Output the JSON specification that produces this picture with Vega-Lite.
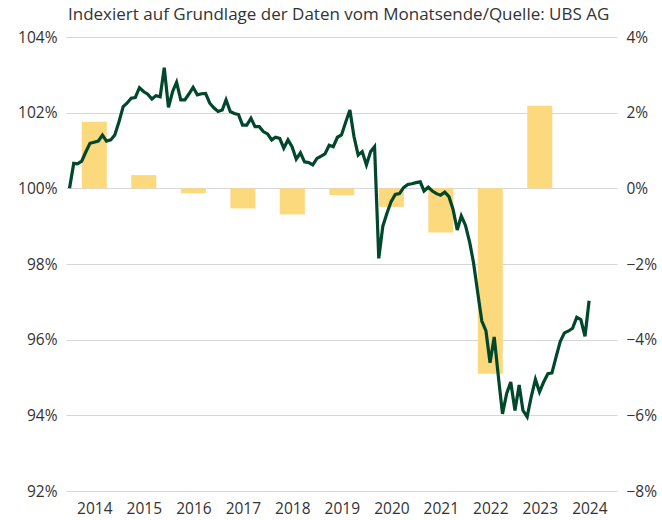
{
  "$schema": "https://vega.github.io/schema/vega-lite/v6.json",
  "width": 551,
  "height": 454,
  "autosize": {"type": "none"},
  "padding": {"left": 66, "top": 37, "right": 45, "bottom": 29},
  "background": "white",
  "config": {
    "view": {"stroke": null},
    "font": "Open Sans",
    "axis": {
      "labelFont": "Open Sans",
      "labelFontSize": 15.5,
      "labelColor": "#333333",
      "domain": false,
      "ticks": false,
      "title": null
    }
  },
  "title": {
    "text": "Indexiert auf Grundlage der Daten vom Monatsende/Quelle: UBS AG",
    "anchor": "start",
    "frame": "group",
    "offset": 6,
    "dx": 2,
    "fontSize": 17,
    "fontWeight": "normal",
    "font": "Open Sans",
    "color": "#333333"
  },
  "datasets": {
    "returns": [
      {"date": "2014-07-02", "ret": 1.76},
      {"date": "2015-07-02", "ret": 0.35},
      {"date": "2016-07-02", "ret": -0.13},
      {"date": "2017-07-02", "ret": -0.53},
      {"date": "2018-07-02", "ret": -0.69},
      {"date": "2019-07-02", "ret": -0.18},
      {"date": "2020-07-02", "ret": -0.49},
      {"date": "2021-07-02", "ret": -1.17},
      {"date": "2022-07-02", "ret": -4.9},
      {"date": "2023-07-02", "ret": 2.18}
    ],
    "index": [
      {"date": "2013-12-31", "value": 100.0},
      {"date": "2014-01-31", "value": 100.66},
      {"date": "2014-02-28", "value": 100.65},
      {"date": "2014-03-31", "value": 100.72},
      {"date": "2014-04-30", "value": 100.96},
      {"date": "2014-05-31", "value": 101.19},
      {"date": "2014-06-30", "value": 101.22},
      {"date": "2014-07-31", "value": 101.25},
      {"date": "2014-08-31", "value": 101.41},
      {"date": "2014-09-30", "value": 101.25},
      {"date": "2014-10-31", "value": 101.28},
      {"date": "2014-11-30", "value": 101.41},
      {"date": "2014-12-31", "value": 101.76},
      {"date": "2015-01-31", "value": 102.16},
      {"date": "2015-02-28", "value": 102.25},
      {"date": "2015-03-31", "value": 102.38},
      {"date": "2015-04-30", "value": 102.40},
      {"date": "2015-05-31", "value": 102.66},
      {"date": "2015-06-30", "value": 102.56},
      {"date": "2015-07-31", "value": 102.49},
      {"date": "2015-08-31", "value": 102.36},
      {"date": "2015-09-30", "value": 102.45},
      {"date": "2015-10-31", "value": 102.42},
      {"date": "2015-11-30", "value": 103.19},
      {"date": "2015-12-31", "value": 102.14},
      {"date": "2016-01-31", "value": 102.56},
      {"date": "2016-02-29", "value": 102.80},
      {"date": "2016-03-31", "value": 102.34},
      {"date": "2016-04-30", "value": 102.34},
      {"date": "2016-05-31", "value": 102.50},
      {"date": "2016-06-30", "value": 102.67},
      {"date": "2016-07-31", "value": 102.47},
      {"date": "2016-08-31", "value": 102.50},
      {"date": "2016-09-30", "value": 102.51},
      {"date": "2016-10-31", "value": 102.25},
      {"date": "2016-11-30", "value": 102.13},
      {"date": "2016-12-31", "value": 102.03},
      {"date": "2017-01-31", "value": 102.07},
      {"date": "2017-02-28", "value": 102.34},
      {"date": "2017-03-31", "value": 102.03},
      {"date": "2017-04-30", "value": 101.98},
      {"date": "2017-05-31", "value": 101.95},
      {"date": "2017-06-30", "value": 101.67},
      {"date": "2017-07-31", "value": 101.67},
      {"date": "2017-08-31", "value": 101.85},
      {"date": "2017-09-30", "value": 101.63},
      {"date": "2017-10-31", "value": 101.63},
      {"date": "2017-11-30", "value": 101.50},
      {"date": "2017-12-31", "value": 101.44},
      {"date": "2018-01-31", "value": 101.28},
      {"date": "2018-02-28", "value": 101.35},
      {"date": "2018-03-31", "value": 101.32},
      {"date": "2018-04-30", "value": 101.06},
      {"date": "2018-05-31", "value": 101.28},
      {"date": "2018-06-30", "value": 101.10},
      {"date": "2018-07-31", "value": 100.77},
      {"date": "2018-08-31", "value": 100.94},
      {"date": "2018-09-30", "value": 100.70},
      {"date": "2018-10-31", "value": 100.68},
      {"date": "2018-11-30", "value": 100.62},
      {"date": "2018-12-31", "value": 100.79},
      {"date": "2019-01-31", "value": 100.85},
      {"date": "2019-02-28", "value": 100.91},
      {"date": "2019-03-31", "value": 101.14},
      {"date": "2019-04-30", "value": 101.10},
      {"date": "2019-05-31", "value": 101.35},
      {"date": "2019-06-30", "value": 101.41},
      {"date": "2019-07-31", "value": 101.75},
      {"date": "2019-08-31", "value": 102.07},
      {"date": "2019-09-30", "value": 101.37},
      {"date": "2019-10-31", "value": 100.88},
      {"date": "2019-11-30", "value": 100.97},
      {"date": "2019-12-31", "value": 100.62},
      {"date": "2020-01-31", "value": 100.97},
      {"date": "2020-02-29", "value": 101.10},
      {"date": "2020-03-31", "value": 98.15},
      {"date": "2020-04-30", "value": 99.00},
      {"date": "2020-05-31", "value": 99.35},
      {"date": "2020-06-30", "value": 99.65},
      {"date": "2020-07-31", "value": 99.84},
      {"date": "2020-08-31", "value": 99.86},
      {"date": "2020-09-30", "value": 100.02},
      {"date": "2020-10-31", "value": 100.10},
      {"date": "2020-11-30", "value": 100.12},
      {"date": "2020-12-31", "value": 100.15},
      {"date": "2021-01-31", "value": 100.17},
      {"date": "2021-02-28", "value": 99.93},
      {"date": "2021-03-31", "value": 100.03},
      {"date": "2021-04-30", "value": 99.93},
      {"date": "2021-05-31", "value": 99.86},
      {"date": "2021-06-30", "value": 99.82},
      {"date": "2021-07-31", "value": 99.90},
      {"date": "2021-08-31", "value": 99.78},
      {"date": "2021-09-30", "value": 99.45},
      {"date": "2021-10-31", "value": 98.90},
      {"date": "2021-11-30", "value": 99.27},
      {"date": "2021-12-31", "value": 99.02},
      {"date": "2022-01-31", "value": 98.57},
      {"date": "2022-02-28", "value": 98.04},
      {"date": "2022-03-31", "value": 97.25},
      {"date": "2022-04-30", "value": 96.50},
      {"date": "2022-05-31", "value": 96.23},
      {"date": "2022-06-30", "value": 95.39},
      {"date": "2022-07-31", "value": 96.07},
      {"date": "2022-08-31", "value": 95.01},
      {"date": "2022-09-30", "value": 94.04},
      {"date": "2022-10-31", "value": 94.58},
      {"date": "2022-11-30", "value": 94.88},
      {"date": "2022-12-31", "value": 94.13},
      {"date": "2023-01-31", "value": 94.80},
      {"date": "2023-02-28", "value": 94.13},
      {"date": "2023-03-31", "value": 93.96},
      {"date": "2023-04-30", "value": 94.49},
      {"date": "2023-05-31", "value": 94.95},
      {"date": "2023-06-30", "value": 94.62},
      {"date": "2023-07-31", "value": 94.88},
      {"date": "2023-08-31", "value": 95.10},
      {"date": "2023-09-30", "value": 95.12},
      {"date": "2023-10-31", "value": 95.55},
      {"date": "2023-11-30", "value": 95.95},
      {"date": "2023-12-31", "value": 96.18},
      {"date": "2024-01-31", "value": 96.23},
      {"date": "2024-02-29", "value": 96.30},
      {"date": "2024-03-31", "value": 96.59},
      {"date": "2024-04-30", "value": 96.53},
      {"date": "2024-05-31", "value": 96.09},
      {"date": "2024-06-30", "value": 97.03}
    ]
  },
  "layer": [
    {
      "data": {"name": "returns"},
      "mark": {"type": "bar", "size": 25, "color": "#fdd97e"},
      "encoding": {
        "x": {
          "field": "date",
          "type": "temporal",
          "scale": {
            "type": "utc",
            "nice": false,
            "padding": 0,
            "domain": [
              {"year": 2013, "month": 12, "date": 5, "utc": true},
              {"year": 2025, "month": 1, "date": 22, "utc": true}
            ]
          },
          "axis": {
            "values": [
              {"year": 2014, "month": 7, "date": 2, "utc": true},
              {"year": 2015, "month": 7, "date": 2, "utc": true},
              {"year": 2016, "month": 7, "date": 2, "utc": true},
              {"year": 2017, "month": 7, "date": 2, "utc": true},
              {"year": 2018, "month": 7, "date": 2, "utc": true},
              {"year": 2019, "month": 7, "date": 2, "utc": true},
              {"year": 2020, "month": 7, "date": 2, "utc": true},
              {"year": 2021, "month": 7, "date": 2, "utc": true},
              {"year": 2022, "month": 7, "date": 2, "utc": true},
              {"year": 2023, "month": 7, "date": 2, "utc": true},
              {"year": 2024, "month": 7, "date": 2, "utc": true}
            ],
            "labelExpr": "utcFormat(datum.value, '%Y')",
            "grid": false,
            "labelPadding": 10,
            "labelFlush": false,
            "labelOverlap": false
          }
        },
        "y": {
          "field": "ret",
          "type": "quantitative",
          "scale": {"domain": [-8, 4], "nice": false},
          "axis": {
            "orient": "right",
            "values": [-8, -6, -4, -2, 0, 2, 4],
            "labelExpr": "(datum.value < 0 ? '−' : '') + abs(datum.value) + '%'",
            "grid": false,
            "labelPadding": 9
          }
        }
      }
    },
    {
      "data": {"name": "index"},
      "mark": {"type": "line", "color": "#00472c", "strokeWidth": 3.2},
      "encoding": {
        "x": {"field": "date", "type": "temporal"},
        "y": {
          "field": "value",
          "type": "quantitative",
          "scale": {"domain": [92, 104], "nice": false, "zero": false},
          "axis": {
            "orient": "left",
            "values": [92, 94, 96, 98, 100, 102, 104],
            "labelExpr": "datum.value + '%'",
            "grid": true,
            "gridColor": "#d6d6d6",
            "gridWidth": 1.2,
            "labelPadding": 9
          }
        }
      }
    }
  ],
  "resolve": {"scale": {"y": "independent"}}
}
